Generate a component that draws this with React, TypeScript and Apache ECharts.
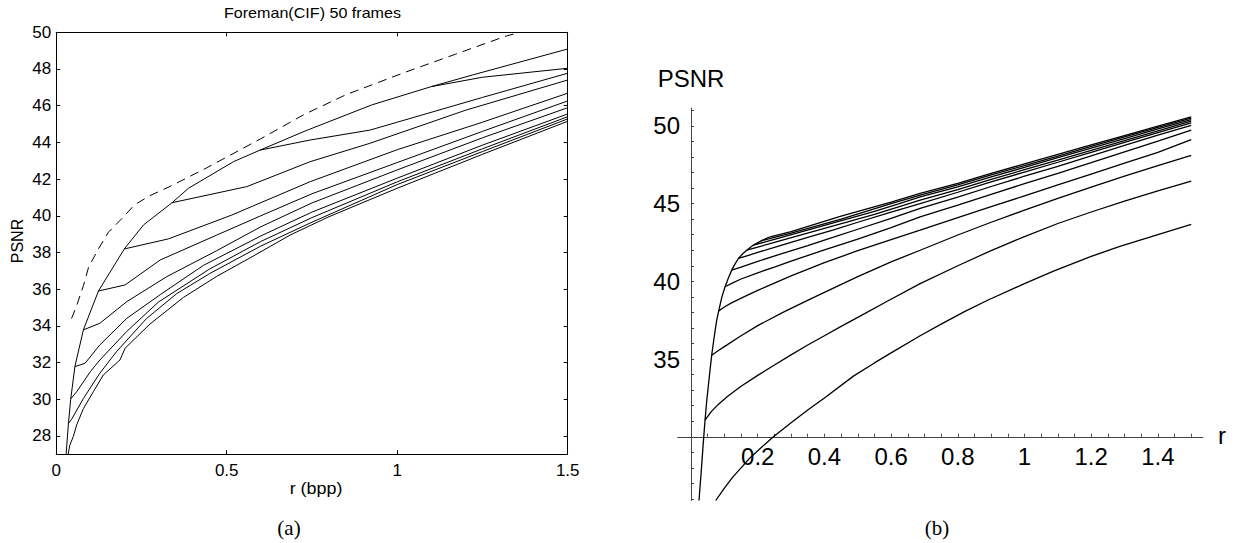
import React, { useEffect, useRef } from "react";
import * as echarts from "echarts";

const FONT = "'Liberation Sans', Arial, Helvetica, sans-serif";
const SERIF = "'Liberation Serif', 'Times New Roman', serif";

// ---------- Panel (a): Foreman(CIF) 50 frames ----------
const aTitle = "Foreman(CIF) 50 frames";
const aXName = "r (bpp)";
const aYName = "PSNR";
const aYTicks = [28, 30, 32, 34, 36, 38, 40, 42, 44, 46, 48, 50];

const aDashed = [[0.045, 34.4], [0.06, 35.1], [0.08, 36.2], [0.095, 37.2], [0.124, 38.2], [0.153, 39.1], [0.19, 39.8], [0.23, 40.6], [0.275, 41.1], [0.334, 41.6], [0.44, 42.6], [0.6, 44.2], [0.725, 45.5], [0.85, 46.6], [1.02, 47.8], [1.17, 48.8], [1.32, 49.8], [1.36, 50.0]];
const aEnvelope = [[0.029, 27.0], [0.036, 28.7], [0.0425, 30.0], [0.055, 31.8], [0.08, 33.8], [0.124, 35.9], [0.2, 38.2], [0.256, 39.5], [0.339, 40.7], [0.388, 41.5], [0.52, 42.95], [0.598, 43.58], [0.73, 44.62], [0.8, 45.13], [0.925, 46.04], [1.1, 47.04], [1.22, 47.67], [1.5, 49.09]];
const aBranch1100 = [[1.1, 47.04], [1.25, 47.55], [1.5, 48.04]];
const aBranch0600 = [[0.598, 43.58], [0.745, 44.13], [0.92, 44.67], [1.0, 45.1], [1.25, 46.45], [1.5, 47.77]];
const aBranch0340 = [[0.339, 40.71], [0.559, 41.59], [0.745, 42.95], [0.92, 43.95], [1.2, 45.75], [1.5, 47.4]];
const aBranch0200 = [[0.199, 38.19], [0.329, 38.74], [0.515, 40.04], [0.745, 41.86], [1.0, 43.6], [1.25, 45.1], [1.5, 46.68]];
const aBranch0124 = [[0.124, 35.9], [0.202, 36.23], [0.305, 37.59], [0.471, 38.95], [0.6, 40.0], [0.75, 41.2], [1.0, 42.9], [1.25, 44.6], [1.5, 46.26]];
const aBranch0080 = [[0.0795, 33.78], [0.128, 34.14], [0.207, 35.32], [0.324, 36.68], [0.471, 38.1], [0.6, 39.4], [0.75, 40.7], [1.0, 42.5], [1.25, 44.25], [1.5, 45.89]];
const aBranch0055 = [[0.055, 31.78], [0.0845, 31.96], [0.128, 32.96], [0.207, 34.41], [0.305, 35.7], [0.432, 37.3], [0.6, 38.9], [0.75, 40.2], [1.0, 42.05], [1.25, 43.85], [1.5, 45.55]];
const aBranch0043 = [[0.0425, 30.02], [0.06, 30.41], [0.1, 31.5], [0.128, 32.14], [0.207, 33.7], [0.3, 35.3], [0.45, 37.1], [0.6, 38.6], [0.75, 39.9], [1.0, 41.85], [1.25, 43.65], [1.5, 45.4]];
const aBranch0036 = [[0.036, 28.69], [0.045, 28.9], [0.08, 30.05], [0.128, 31.42], [0.177, 32.6], [0.265, 34.4], [0.353, 35.75], [0.45, 36.85], [0.6, 38.35], [0.75, 39.65], [1.0, 41.7], [1.25, 43.5], [1.5, 45.28]];
const aLowest = [[0.035, 27.0], [0.04, 27.5], [0.05, 27.96], [0.06, 28.6], [0.08, 29.5], [0.109, 30.41], [0.138, 31.32], [0.187, 32.14], [0.202, 32.78], [0.275, 34.1], [0.373, 35.55], [0.471, 36.7], [0.568, 37.7], [0.686, 38.95], [0.8, 39.95], [1.0, 41.5], [1.25, 43.35], [1.5, 45.15]];
const aSolidCurves = [aEnvelope, aBranch1100, aBranch0600, aBranch0340, aBranch0200, aBranch0124, aBranch0080, aBranch0055, aBranch0043, aBranch0036, aLowest];

// ---------- Panel (b): model curves ----------
const bYName = "PSNR";
const bXName = "r";
const bXLabels = [0.2, 0.4, 0.6, 0.8, 1, 1.2, 1.4];
const bXTicks = [0.05, 0.1, 0.15, 0.2, 0.25, 0.3, 0.35, 0.4, 0.45, 0.5, 0.55, 0.6, 0.65, 0.7, 0.75, 0.8, 0.85, 0.9, 0.95, 1, 1.05, 1.1, 1.15, 1.2, 1.25, 1.3, 1.35, 1.4, 1.45, 1.5];
const bYLabels = [35, 40, 45, 50];
const bYTicks = [26, 27, 28, 29, 31, 32, 33, 34, 35, 36, 37, 38, 39, 40, 41, 42, 43, 44, 45, 46, 47, 48, 49, 50, 51];

const bEnvelope = [[0.024, 25.9], [0.027, 26.8], [0.03, 27.6], [0.033, 28.5], [0.036, 29.4], [0.039, 30.25], [0.042, 31.07], [0.047, 32.3], [0.052, 33.3], [0.057, 34.3], [0.062, 35.25], [0.067, 36.05], [0.072, 36.8], [0.077, 37.5], [0.083, 38.1], [0.092, 38.95], [0.102, 39.65], [0.112, 40.22], [0.122, 40.72], [0.132, 41.12], [0.142, 41.47], [0.155, 41.77], [0.167, 42.0], [0.187, 42.33], [0.21, 42.6], [0.235, 42.85]];
const bLowest = [[0.074, 25.9], [0.1, 26.7], [0.125, 27.4], [0.15, 28.0], [0.175, 28.6], [0.2, 29.1], [0.247, 30.0], [0.3, 30.9], [0.35, 31.72], [0.4, 32.5], [0.487, 33.9], [0.55, 34.75], [0.6, 35.4], [0.687, 36.5], [0.75, 37.25], [0.82, 38.05], [0.891, 38.8], [1.0, 39.85], [1.087, 40.65], [1.2, 41.6], [1.286, 42.25], [1.4, 43.0], [1.5, 43.66]];
const bCurve1 = [[0.042, 31.07], [0.06, 31.6], [0.08, 32.05], [0.11, 32.6], [0.15, 33.25], [0.2, 33.95], [0.25, 34.62], [0.3, 35.27], [0.35, 35.9], [0.4, 36.5], [0.45, 37.1], [0.5, 37.68], [0.587, 38.7], [0.687, 39.85], [0.8, 41.0], [0.9, 41.98], [1.0, 42.88], [1.1, 43.72], [1.2, 44.46], [1.3, 45.16], [1.4, 45.82], [1.5, 46.44]];
const bCurve2 = [[0.062, 35.25], [0.08, 35.52], [0.1, 35.8], [0.15, 36.5], [0.2, 37.15], [0.28, 38.05], [0.362, 38.9], [0.43, 39.6], [0.5, 40.3], [0.6, 41.25], [0.687, 42.0], [0.8, 42.98], [0.9, 43.8], [1.0, 44.58], [1.1, 45.33], [1.2, 46.06], [1.3, 46.76], [1.4, 47.45], [1.5, 48.11]];
const bCurve3 = [[0.083, 38.1], [0.1, 38.35], [0.12, 38.6], [0.16, 39.02], [0.2, 39.42], [0.3, 40.35], [0.4, 41.2], [0.5, 41.97], [0.6, 42.68], [0.687, 43.29], [0.8, 44.1], [0.9, 44.8], [1.0, 45.5], [1.1, 46.2], [1.2, 46.9], [1.3, 47.6], [1.4, 48.3], [1.5, 49.12]];
const bCurve4 = [[0.102, 39.65], [0.125, 39.9], [0.15, 40.15], [0.2, 40.55], [0.25, 40.92], [0.3, 41.3], [0.4, 42.02], [0.5, 42.72], [0.6, 43.45], [0.687, 44.15], [0.8, 44.9], [0.9, 45.6], [1.0, 46.28], [1.1, 46.95], [1.2, 47.63], [1.3, 48.33], [1.4, 49.02], [1.5, 49.72]];
const bCurve5 = [[0.122, 40.72], [0.15, 40.92], [0.2, 41.28], [0.275, 41.8], [0.35, 42.3], [0.425, 42.82], [0.5, 43.35], [0.6, 44.05], [0.687, 44.69], [0.8, 45.42], [0.9, 46.1], [1.0, 46.76], [1.1, 47.4], [1.2, 48.07], [1.3, 48.74], [1.4, 49.4], [1.5, 50.04]];
const bCurve6 = [[0.142, 41.47], [0.17, 41.66], [0.2, 41.86], [0.275, 42.34], [0.35, 42.82], [0.425, 43.3], [0.5, 43.8], [0.6, 44.45], [0.687, 45.0], [0.8, 45.73], [0.9, 46.4], [1.0, 47.03], [1.1, 47.66], [1.2, 48.3], [1.3, 48.94], [1.4, 49.57], [1.5, 50.19]];
const bCurve7 = [[0.167, 42.0], [0.2, 42.2], [0.25, 42.5], [0.325, 42.95], [0.4, 43.4], [0.475, 43.85], [0.55, 44.3], [0.62, 44.77], [0.687, 45.22], [0.8, 45.9], [0.9, 46.56], [1.0, 47.18], [1.1, 47.8], [1.2, 48.43], [1.3, 49.05], [1.4, 49.68], [1.5, 50.3]];
const bCurve8 = [[0.187, 42.33], [0.22, 42.52], [0.25, 42.7], [0.325, 43.15], [0.4, 43.6], [0.475, 44.05], [0.55, 44.5], [0.62, 44.97], [0.687, 45.43], [0.8, 46.08], [0.9, 46.72], [1.0, 47.33], [1.1, 47.95], [1.2, 48.57], [1.3, 49.18], [1.4, 49.8], [1.5, 50.41]];
const bCurve9 = [[0.21, 42.6], [0.25, 42.82], [0.3, 43.1], [0.375, 43.55], [0.45, 44.0], [0.525, 44.5], [0.6, 45.0], [0.687, 45.55], [0.8, 46.2], [0.9, 46.85], [1.0, 47.45], [1.1, 48.06], [1.2, 48.68], [1.3, 49.3], [1.4, 49.9], [1.5, 50.5]];
const bCurve10 = [[0.235, 42.85], [0.27, 43.03], [0.3, 43.2], [0.375, 43.7], [0.45, 44.2], [0.525, 44.65], [0.6, 45.1], [0.687, 45.65], [0.8, 46.3], [0.9, 46.95], [1.0, 47.55], [1.1, 48.16], [1.2, 48.77], [1.3, 49.38], [1.4, 49.98], [1.5, 50.58]];
const bCurves = [bEnvelope, bLowest, bCurve1, bCurve2, bCurve3, bCurve4, bCurve5, bCurve6, bCurve7, bCurve8, bCurve9, bCurve10];

const fmt = (v: number) => String(Math.round(v * 100) / 100);

function buildOption() {
  const boxLine = { show: true, onZero: false, lineStyle: { color: "#000", width: 1 } };
  const boxTick = { show: true, inside: true, length: 4, lineStyle: { color: "#000", width: 1 } };
  const bAxisLine = { show: true, onZero: false, lineStyle: { color: "#444", width: 1 } };
  const bTick = { show: true, inside: true, length: 3, lineStyle: { color: "#444", width: 1 } };

  const series: any[] = [];
  series.push({
    type: "line", xAxisIndex: 0, yAxisIndex: 0, data: aDashed, showSymbol: false, symbol: "none",
    silent: true, clip: true, lineStyle: { color: "#000", width: 1, type: [9, 6] },
  });
  aSolidCurves.forEach((d) => {
    series.push({
      type: "line", xAxisIndex: 0, yAxisIndex: 0, data: d, showSymbol: false, symbol: "none",
      silent: true, clip: true, lineStyle: { color: "#000", width: 1 },
    });
  });
  bCurves.forEach((d) => {
    series.push({
      type: "line", xAxisIndex: 2, yAxisIndex: 2, data: d, showSymbol: false, symbol: "none",
      silent: true, clip: true, smooth: false,
      lineStyle: { color: "#000", width: 1.3 },
    });
  });

  return {
    animation: false,
    backgroundColor: "#fff",
    textStyle: { fontFamily: FONT },
    grid: [
      { left: 56.2, top: 32.3, width: 511.5, height: 422, outerBoundsMode: "none" },
      { left: 677.7, top: 108, width: 525.2, height: 392.5, outerBoundsMode: "none" },
      { left: 691, top: 108, width: 100, height: 392.5, outerBoundsMode: "none" },
      { left: 677.7, top: 400, width: 525.2, height: 36.8, outerBoundsMode: "none" },
    ],
    xAxis: [
      {
        gridIndex: 0, type: "value", min: 0, max: 1.5, interval: 0.5, position: "bottom",
        axisLine: boxLine, axisTick: boxTick, splitLine: { show: false },
        axisLabel: { color: "#000", fontSize: 17, margin: 8, fontFamily: FONT, formatter: fmt },
      },
      {
        gridIndex: 0, type: "value", min: 0, max: 1.5, interval: 0.5, position: "top",
        axisLine: boxLine, axisTick: boxTick, splitLine: { show: false }, axisLabel: { show: false },
      },
      { gridIndex: 1, type: "value", min: -0.04, max: 1.535, show: false },
      { gridIndex: 2, type: "value", min: 0, max: 1, show: false },
      {
        gridIndex: 3, type: "value", min: -0.04, max: 1.535, position: "bottom",
        axisLine: bAxisLine, axisTick: { ...bTick, customValues: bXTicks }, splitLine: { show: false },
        axisLabel: { customValues: bXLabels, color: "#000", fontSize: 24, margin: 8, fontFamily: FONT, formatter: fmt },
      },
    ],
    yAxis: [
      {
        gridIndex: 0, type: "value", min: 27, max: 50, position: "left",
        axisLine: boxLine, axisTick: { ...boxTick, customValues: aYTicks }, splitLine: { show: false },
        axisLabel: { customValues: aYTicks, color: "#000", fontSize: 17, margin: 5, fontFamily: FONT, formatter: fmt },
      },
      {
        gridIndex: 0, type: "value", min: 27, max: 50, position: "right",
        axisLine: boxLine, axisTick: { ...boxTick, customValues: aYTicks }, splitLine: { show: false },
        axisLabel: { show: false },
      },
      { gridIndex: 1, type: "value", min: 25.9, max: 51.15, show: false },
      {
        gridIndex: 2, type: "value", min: 25.9, max: 51.15, position: "left",
        axisLine: bAxisLine, axisTick: { ...bTick, customValues: bYTicks }, splitLine: { show: false },
        axisLabel: { customValues: bYLabels, color: "#000", fontSize: 24, margin: 11, fontFamily: FONT, formatter: fmt },
      },
      { gridIndex: 3, type: "value", min: 0, max: 1, show: false },
    ],
    graphic: [
      {
        type: "text", x: 312.5, y: 13, scaleX: 1.15, silent: true,
        style: { text: aTitle, fontSize: 14, fontFamily: FONT, fill: "#000", textAlign: "center", textVerticalAlign: "middle", align: "center", verticalAlign: "middle" },
      },
      {
        type: "text", x: 316, y: 489, scaleX: 1.12, silent: true,
        style: { text: aXName, fontSize: 16, fontFamily: FONT, fill: "#000", textAlign: "center", textVerticalAlign: "middle", align: "center", verticalAlign: "middle" },
      },
      {
        type: "text", x: 17, y: 241, rotation: Math.PI / 2, silent: true,
        style: { text: aYName, fontSize: 16, fontFamily: FONT, fill: "#000", textAlign: "center", textVerticalAlign: "middle", align: "center", verticalAlign: "middle" },
      },
      {
        type: "text", x: 289, y: 528, silent: true,
        style: { text: "(a)", fontSize: 21, fontFamily: SERIF, fill: "#000", textAlign: "center", textVerticalAlign: "middle", align: "center", verticalAlign: "middle" },
      },
      {
        type: "text", x: 691, y: 78, silent: true,
        style: { text: bYName, fontSize: 24, fontFamily: FONT, fill: "#000", textAlign: "center", textVerticalAlign: "middle", align: "center", verticalAlign: "middle" },
      },
      {
        type: "text", x: 1218, y: 435, silent: true,
        style: { text: bXName, fontSize: 24, fontFamily: FONT, fill: "#000", textAlign: "left", textVerticalAlign: "middle", align: "left", verticalAlign: "middle" },
      },
      {
        type: "text", x: 937, y: 528, silent: true,
        style: { text: "(b)", fontSize: 21, fontFamily: SERIF, fill: "#000", textAlign: "center", textVerticalAlign: "middle", align: "center", verticalAlign: "middle" },
      },
    ],
    series,
  };
}

export default function App() {
  const ref = useRef<HTMLDivElement>(null);
  useEffect(() => {
    if (!ref.current) return;
    const chart = echarts.init(ref.current, undefined, { renderer: "svg" });
    chart.setOption(buildOption() as any);
    return () => chart.dispose();
  }, []);
  return (
    <div
      ref={ref}
      style={{ position: "fixed", left: 0, top: 0, width: 1241, height: 543, background: "#fff" }}
    />
  );
}
